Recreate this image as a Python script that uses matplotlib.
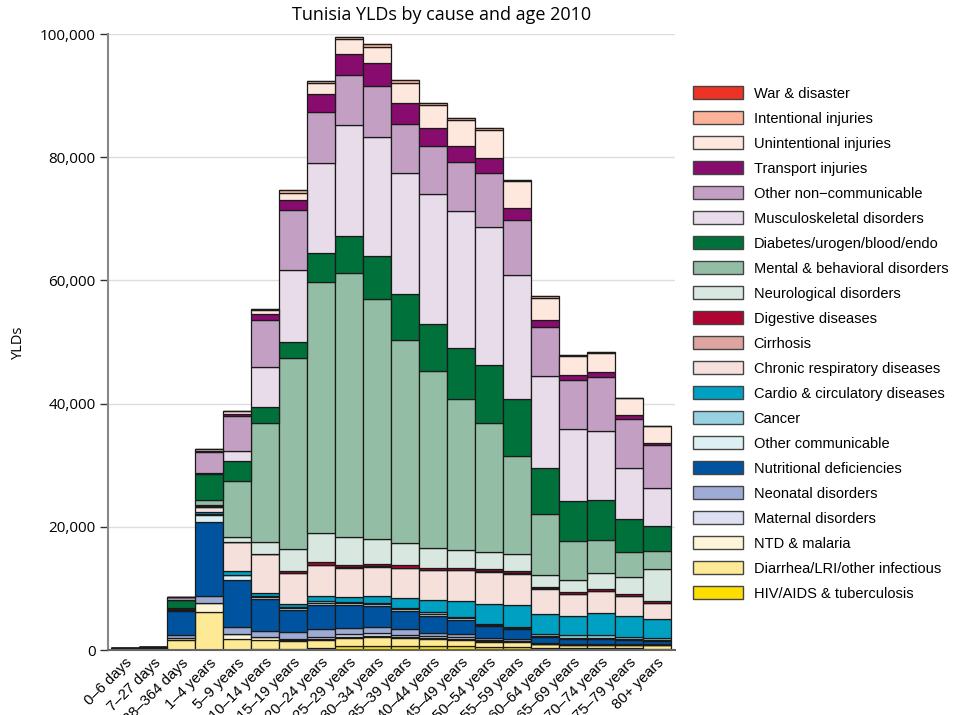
import matplotlib
matplotlib.use("Agg")
import matplotlib.pyplot as plt
from matplotlib.ticker import FuncFormatter, MultipleLocator
import numpy as np

# ---------- Data (YLDs, Tunisia 2010) ----------
AGES = ["0–6 days", "7–27 days", "28–364 days", "1–4 years", "5–9 years",
        "10–14 years", "15–19 years", "20–24 years", "25–29 years", "30–34 years",
        "35–39 years", "40–44 years", "45–49 years", "50–54 years", "55–59 years",
        "60–64 years", "65–69 years", "70–74 years", "75–79 years", "80+ years"]

war = [0] * 20
intentional = [0, 0, 0, 20, 50, 150, 400, 300, 400, 500, 400, 350, 350, 300, 150, 250, 150, 150, 100, 80]
unintentional = [0, 10, 50, 300, 400, 700, 1140, 1690, 2340, 2730, 3250, 3660, 4150, 4570, 4370, 3580, 3090, 3090, 2710, 2700]
transport = [0, 0, 20, 100, 430, 920, 1630, 2930, 3510, 3710, 3380, 3040, 2620, 2440, 1950, 1190, 810, 810, 650, 380]
other_ncd = [0, 0, 420, 3510, 5640, 7580, 9800, 8390, 8130, 8200, 8000, 7790, 8030, 8760, 8890, 7970, 7850, 8840, 7970, 6930]
musculo = [0, 0, 10, 100, 1570, 6500, 11660, 14630, 17950, 19320, 19710, 21020, 22230, 22420, 20100, 14900, 11760, 11110, 8180, 6180]
diabetes = [0, 0, 1300, 4230, 3250, 2710, 2600, 4620, 6110, 7020, 7480, 7720, 8230, 9320, 9380, 7480, 6400, 6450, 5430, 4130]
mental = [0, 0, 200, 760, 9040, 19240, 30990, 40780, 42800, 38960, 32970, 28620, 24470, 20940, 15900, 9860, 6390, 5420, 4000, 2930]
neuro = [0, 0, 50, 300, 870, 1900, 3690, 4750, 4560, 4100, 3580, 3230, 2930, 2810, 2720, 1950, 2000, 2600, 2880, 5200]
digestive = [0, 0, 20, 150, 50, 100, 300, 400, 350, 350, 350, 350, 400, 400, 320, 270, 270, 270, 270, 270]
cirrhosis = [0, 0, 0, 0, 0, 0, 10, 20, 30, 40, 50, 60, 70, 80, 80, 70, 60, 50, 40, 30]
chronic_resp = [0, 0, 70, 810, 4720, 6230, 4980, 5010, 4850, 4750, 4880, 4860, 4990, 5170, 5040, 4070, 3530, 3530, 3140, 2550]
cardio = [0, 0, 50, 340, 540, 540, 540, 850, 750, 1200, 1630, 2020, 2570, 3240, 3620, 3250, 3140, 3690, 3460, 3140]
cancer = [0, 0, 20, 100, 100, 100, 100, 250, 150, 150, 150, 200, 200, 200, 200, 300, 380, 380, 300, 270]
other_comm = [0, 20, 50, 1090, 700, 430, 300, 400, 400, 300, 300, 300, 300, 250, 200, 200, 150, 150, 150, 150]
nutritional = [20, 50, 4020, 12080, 7700, 5090, 3520, 3900, 3600, 3380, 2930, 2750, 2260, 1820, 1500, 1000, 810, 810, 700, 540]
neonatal = [200, 250, 430, 1190, 1080, 980, 1250, 1300, 1040, 1040, 980, 600, 500, 400, 400, 150, 150, 150, 150, 150]
maternal = [0, 0, 0, 0, 0, 0, 150, 300, 450, 400, 350, 350, 250, 150, 50, 0, 0, 0, 0, 0]
ntd = [0, 0, 300, 1370, 810, 540, 200, 150, 150, 200, 150, 150, 150, 100, 80, 50, 50, 50, 50, 50]
diarrhea = [30, 100, 1630, 6150, 1790, 1520, 1250, 1300, 1300, 1450, 1300, 1090, 1090, 900, 900, 600, 540, 540, 500, 540]
hiv_tb = [0, 0, 30, 30, 50, 100, 150, 350, 700, 650, 650, 650, 600, 450, 420, 320, 280, 280, 250, 200]

# legend order (top to bottom); stacked from the bottom upwards in reverse
CAUSES = [
    ("War & disaster", war, "#EE3224"),
    ("Intentional injuries", intentional, "#FBB49B"),
    ("Unintentional injuries", unintentional, "#FEE7DC"),
    ("Transport injuries", transport, "#880C6E"),
    ("Other non−communicable", other_ncd, "#C49FC4"),
    ("Musculoskeletal disorders", musculo, "#E8DCEA"),
    ("Diabetes/urogen/blood/endo", diabetes, "#00713B"),
    ("Mental & behavioral disorders", mental, "#93BEA5"),
    ("Neurological disorders", neuro, "#D8E7DF"),
    ("Digestive diseases", digestive, "#B00433"),
    ("Cirrhosis", cirrhosis, "#DEA49F"),
    ("Chronic respiratory diseases", chronic_resp, "#F5E0DB"),
    ("Cardio & circulatory diseases", cardio, "#00A0C3"),
    ("Cancer", cancer, "#98D2E2"),
    ("Other communicable", other_comm, "#DCEFF2"),
    ("Nutritional deficiencies", nutritional, "#00549F"),
    ("Neonatal disorders", neonatal, "#9DABD5"),
    ("Maternal disorders", maternal, "#DCE0F0"),
    ("NTD & malaria", ntd, "#FEF4D8"),
    ("Diarrhea/LRI/other infectious", diarrhea, "#FEE994"),
    ("HIV/AIDS & tuberculosis", hiv_tb, "#FEDD00"),
]

# ---------- Plot ----------
fig = plt.figure(figsize=(9.65, 7.15), dpi=100)
ax = fig.add_axes([108 / 965, 1 - 650 / 715, (675 - 108) / 965, (650 - 34) / 715])

x = np.arange(len(AGES))
bottom = np.zeros(len(AGES))
handles = []
for label, vals, color in reversed(CAUSES):
    vals = np.array(vals, dtype=float)
    b = ax.bar(x, vals, width=1.0, bottom=bottom, color=color,
               edgecolor="#1a1a1a", linewidth=0.9, label=label, zorder=2)
    handles.append(b)
    bottom += vals

ax.set_xlim(-0.61, 19.64)
ax.set_ylim(0, 100000)
ax.yaxis.set_major_locator(MultipleLocator(20000))
ax.yaxis.set_major_formatter(FuncFormatter(lambda v, p: f"{v:,.0f}"))
ax.grid(axis="y", color="#dddddd", linewidth=1, zorder=0)
ax.set_axisbelow(True)

for s in ["top", "right"]:
    ax.spines[s].set_visible(False)
ax.spines["left"].set_color("#888888")
ax.spines["left"].set_linewidth(1.5)
ax.spines["bottom"].set_color("#666666")
ax.spines["bottom"].set_linewidth(1.5)

ax.tick_params(axis="y", length=6, width=1, color="#333333", labelsize=11, pad=3)
ax.tick_params(axis="x", length=0, pad=4)
for t in ax.get_yticklabels():
    t.set_fontfamily("Open Sans")
ax.set_xticks(x)
ax.set_xticklabels(AGES, rotation=45, ha="right", rotation_mode="anchor",
                   fontsize=10.7, fontfamily="Liberation Sans")

ax.set_ylabel("YLDs", fontsize=10.5, fontfamily="Open Sans", labelpad=10)
fig.text(442 / 965, 1 - 15 / 715, "Tunisia YLDs by cause and age 2010",
         ha="center", va="center", fontsize=13, fontfamily="Open Sans")

leg = fig.legend(handles[::-1], [c[0] for c in CAUSES], loc="upper left",
                 bbox_to_anchor=(693 / 965, 1 - 86 / 715), frameon=False,
                 prop={"family": "Liberation Sans", "size": 10.5},
                 handlelength=3.4, handleheight=1.0, handletextpad=0.75,
                 labelspacing=0.72, borderpad=0, borderaxespad=0)
for p in leg.get_patches():
    p.set_edgecolor("#444444")
    p.set_linewidth(1)

fig.savefig("out.png", dpi=100)
